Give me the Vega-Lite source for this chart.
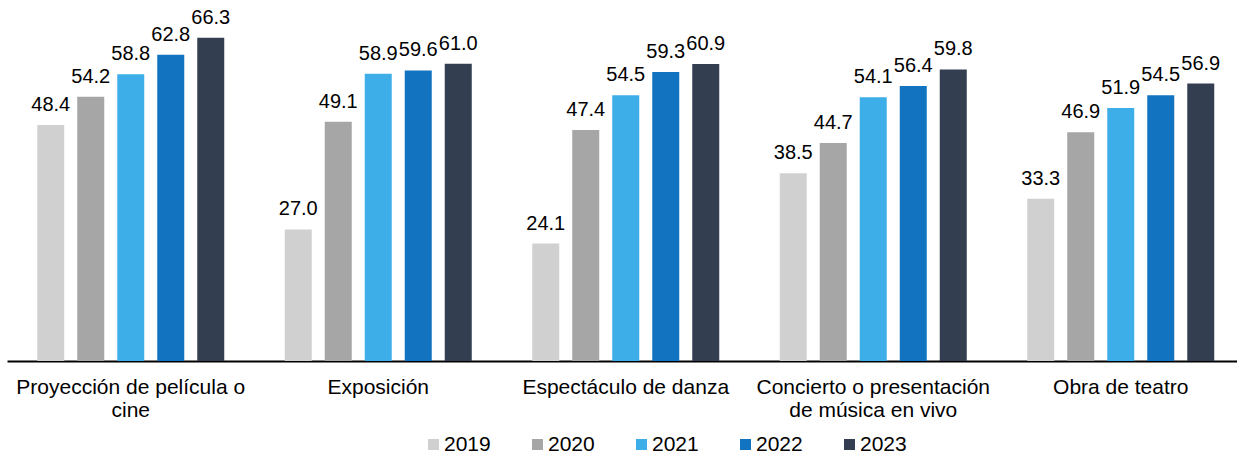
{
  "$schema": "https://vega.github.io/schema/vega-lite/v6.json",
  "width": 1237.5,
  "height": 341.25,
  "autosize": {"type": "none"},
  "padding": {"left": 7, "top": 19.75, "right": 0, "bottom": 93},
  "background": "white",
  "config": {"font": "Liberation Sans", "view": {"stroke": null}},
  "title": {"text": "(Porcentaje)", "fontSize": 24, "fontWeight": "normal", "color": "#000000", "anchor": "start", "frame": "group", "dx": 581, "baseline": "alphabetic", "offset": 0},
  "data": {"values": [
    {"cat": "Proyección de película o|cine", "year": "2019", "value": 48.4},
    {"cat": "Proyección de película o|cine", "year": "2020", "value": 54.2},
    {"cat": "Proyección de película o|cine", "year": "2021", "value": 58.8},
    {"cat": "Proyección de película o|cine", "year": "2022", "value": 62.8},
    {"cat": "Proyección de película o|cine", "year": "2023", "value": 66.3},
    {"cat": "Exposición", "year": "2019", "value": 27.0},
    {"cat": "Exposición", "year": "2020", "value": 49.1},
    {"cat": "Exposición", "year": "2021", "value": 58.9},
    {"cat": "Exposición", "year": "2022", "value": 59.6},
    {"cat": "Exposición", "year": "2023", "value": 61.0},
    {"cat": "Espectáculo de danza", "year": "2019", "value": 24.1},
    {"cat": "Espectáculo de danza", "year": "2020", "value": 47.4},
    {"cat": "Espectáculo de danza", "year": "2021", "value": 54.5},
    {"cat": "Espectáculo de danza", "year": "2022", "value": 59.3},
    {"cat": "Espectáculo de danza", "year": "2023", "value": 60.9},
    {"cat": "Concierto o presentación|de música en vivo", "year": "2019", "value": 38.5},
    {"cat": "Concierto o presentación|de música en vivo", "year": "2020", "value": 44.7},
    {"cat": "Concierto o presentación|de música en vivo", "year": "2021", "value": 54.1},
    {"cat": "Concierto o presentación|de música en vivo", "year": "2022", "value": 56.4},
    {"cat": "Concierto o presentación|de música en vivo", "year": "2023", "value": 59.8},
    {"cat": "Obra de teatro", "year": "2019", "value": 33.3},
    {"cat": "Obra de teatro", "year": "2020", "value": 46.9},
    {"cat": "Obra de teatro", "year": "2021", "value": 51.9},
    {"cat": "Obra de teatro", "year": "2022", "value": 54.5},
    {"cat": "Obra de teatro", "year": "2023", "value": 56.9}
  ]},
  "encoding": {
    "x": {"field": "cat", "type": "nominal", "sort": null, "scale": {"paddingInner": 0, "paddingOuter": 0},
      "axis": {"title": null, "labelAngle": 0, "ticks": false, "tickSize": 0, "labelPadding": 15, "labelFontSize": 21, "labelColor": "#000000", "labelLineHeight": 23, "domainColor": "#000000", "domainWidth": 2, "labelExpr": "split(datum.label, '|')", "labelLimit": 0}},
    "xOffset": {"field": "year", "type": "nominal", "scale": {"paddingInner": 0.325, "paddingOuter": 0.756}},
    "y": {"field": "value", "type": "quantitative", "scale": {"domain": [0, 70]}, "axis": null}
  },
  "layer": [
    {"mark": {"type": "bar"},
     "encoding": {"color": {"field": "year", "type": "nominal",
       "scale": {"domain": ["2019", "2020", "2021", "2022", "2023"], "range": ["#D0D0D0", "#A6A6A6", "#3EAEE8", "#1274C0", "#333F50"]},
       "legend": {"title": null, "orient": "none", "legendX": 416, "legendY": 414, "direction": "horizontal", "symbolType": "square", "symbolSize": 121, "symbolStrokeWidth": 0, "labelFontSize": 21, "labelColor": "#000000", "labelOffset": 0, "columnPadding": 36, "padding": 0}}}},
    {"mark": {"type": "text", "dy": -14, "baseline": "alphabetic", "fontSize": 20, "color": "#000000"},
     "encoding": {"text": {"field": "value", "type": "quantitative", "format": ".1f"}}}
  ]
}
